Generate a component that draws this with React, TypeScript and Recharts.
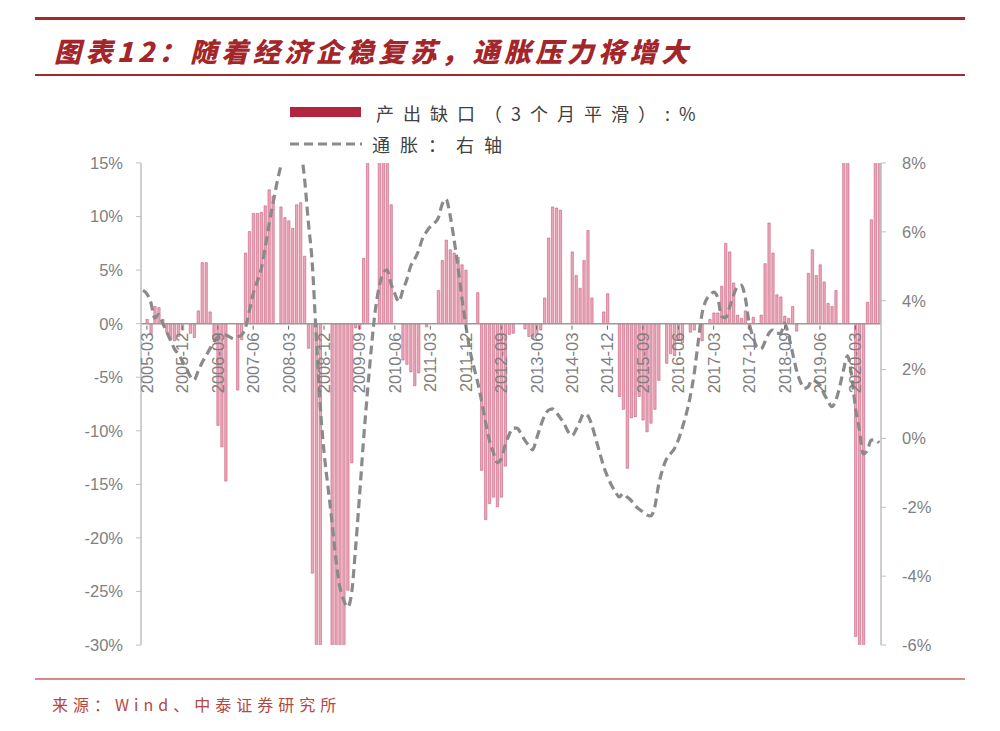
import React from 'react';
import { ComposedChart, Bar, Line, XAxis, YAxis, ReferenceLine } from 'recharts';

// Output gap (3-month smoothed, %) monthly from 2005-02 to 2020-09
const outputGap: number[] = [
  0, 0.4, -1.0, 1.6, 1.5, 0.4, -0.8, -1.5, -1.6, -1.2, -0.6,
  0, -0.9, -1.3, 1.2, 5.7, 5.7, 1.1, -1.5, -9.5, -11.5, -14.7, 0,
  0, -6.2, -1.5, 6.6, 8.6, 10.3, 10.3, 10.4, 11.0, 12.5, 11.9, 0,
  10.9, 9.9, 9.6, 8.9, 11.1, 11.3, 6.3, -2.3, -23.3, -33, -33, 0,
  0, -33, -33, -33, -33, -24.9, -13.0, -0.4, -0.5, 6.1, 17, 0,
  0, 17, 17, 17, 11.1, 0, 0, -3.4, -3.8, -4.5, -5.8, -4.6,
  0, -0.3, 0, 0, 3.1, 5.9, 7.8, 6.9, 6.6, 6.2, 5.5, 5.0,
  0, 0, 2.9, -13.7, -18.3, -16.8, -16.2, -17.1, -16.2, -13.3, -1.0, -0.9,
  0, 0, -0.5, -1.2, -1.4, -1.0, -0.6, 2.4, 8.0, 10.9, 10.8, 10.6,
  0, 0, 6.7, 4.5, 3.3, 5.9, 8.7, 2.4, 0, 0, 1.1, 2.8,
  0, 0, -6.8, -8.0, -13.5, -8.8, -8.7, -6.8, -9.0, -10.1, -9.3, -8.0,
  -5.3, 0, -3.7, -2.8, -3.0, -1.5, -1.8, 0, -0.8, -0.6, 0, -1.6,
  0, 0.4, 1.0, 1.0, 3.5, 7.5, 6.7, 3.8, 0.8, 0.5, 1.2, -0.5,
  0.6, 0, 0.8, 5.6, 9.4, 6.6, 2.7, 2.5, 0.7, 0.5, 1.6, -0.7,
  0, 0, 4.7, 6.9, 4.5, 5.5, 3.9, 1.9, 1.6, 3.1, 0, 17,
  17, 0, -29.2, -33, -33, 2.0, 9.7, 17, 17,
];

// Inflation (%, right axis) monthly from 2005-02 to 2020-09
const inflation: number[] = [
  4.3, 4.2, 3.95, 3.5, 3.6, 3.35, 3.1, 2.85, 2.6, 2.45, 2.25,
  2.05, 1.8, 1.7, 1.95, 2.2, 2.4, 2.6, 2.8, 2.95, 3.0, 3.0, 2.95,
  2.9, 2.95, 3.0, 3.2, 3.7, 4.2, 4.55, 4.9, 5.5, 6.2, 6.8, 7.4,
  7.9, 8.3, 8.6, 8.7, 8.6, 8.4, 7.6, 6.3, 5.1, 3.0, 1.0, -0.4,
  -1.4, -2.4, -3.5, -4.3, -4.7, -4.9, -4.5, -3.2, -1.7, -0.1, 1.3, 2.6,
  3.7, 4.4, 4.8, 4.9, 4.5, 4.2, 3.97, 4.3, 4.6, 5.0, 5.2, 5.45,
  5.8, 6.0, 6.15, 6.25, 6.4, 6.8, 6.95, 6.5, 5.8, 5.0, 4.1, 3.3,
  2.6, 2.1, 1.65, 1.1, 0.5, -0.05, -0.4, -0.7, -0.6, -0.2, 0.1, 0.3,
  0.3, 0.15, -0.05, -0.2, -0.33, 0.0, 0.35, 0.65, 0.82, 0.86, 0.75, 0.6,
  0.43, 0.2, 0.08, 0.25, 0.5, 0.72, 0.66, 0.4, 0.0, -0.4, -0.8, -1.1,
  -1.35, -1.55, -1.7, -1.6, -1.7, -1.8, -1.95, -2.05, -2.13, -2.22, -2.25, -2.0,
  -1.35, -0.9, -0.6, -0.45, -0.3, -0.05, 0.3, 0.7, 1.2, 1.85, 2.75, 3.6,
  4.0, 4.15, 4.25, 4.1, 3.55, 3.5, 3.8, 4.15, 4.4, 4.45, 4.1, 3.35,
  2.95, 2.65, 2.6, 2.8, 3.05, 3.15, 3.05, 3.05, 3.35, 3.0, 2.5, 2.0,
  1.65, 1.45, 1.5, 1.7, 1.65, 1.55, 1.3, 1.1, 0.92, 1.1, 1.5, 2.0,
  2.4, 1.85, 0.9, 0.25, -0.45, -0.35, -0.05, -0.04, -0.13,
];

const START_YEAR = 2005;
const START_MONTH = 2;
const months: string[] = outputGap.map((_, k) => {
  const m = START_MONTH - 1 + k;
  const y = START_YEAR + Math.floor(m / 12);
  const mm = (m % 12) + 1;
  return `${y}-${mm < 10 ? '0' + mm : mm}`;
});

const xTickLabels = [
  '2005-03', '2005-12', '2006-09', '2007-06', '2008-03', '2008-12', '2009-09',
  '2010-06', '2011-03', '2011-12', '2012-09', '2013-06', '2014-03', '2014-12',
  '2015-09', '2016-06', '2017-03', '2017-12', '2018-09', '2019-06', '2020-03',
];
const leftTicks = [-30, -25, -20, -15, -10, -5, 0, 5, 10, 15];
const rightTicks = [-6, -4, -2, 0, 2, 4, 6, 8];
const LEFT_DOMAIN: [number, number] = [-30, 15];
const RIGHT_DOMAIN: [number, number] = [-6, 8];

const TITLE = '图表12：随着经济企稳复苏，通胀压力将增大';
const LEGEND_BAR = '产出缺口（3个月平滑）:%';
const LEGEND_LINE = '通胀：右轴';
const SOURCE = '来源：Wind、中泰证券研究所';

const data = months.map((m, k) => ({ month: m, gap: outputGap[k], infl: inflation[k] }));

// layout
const W = 1000;
const H = 731;
const PLOT_TOP = 163;
const PLOT_BOTTOM = 645;
const PLOT_LEFT = 141;
const PLOT_RIGHT = 881;
const LEFT_AXIS_W = 81;
const RIGHT_AXIS_W = 60;
const X_AXIS_H = 20;
const ZERO_OFFSET = ((0 - LEFT_DOMAIN[0]) / (LEFT_DOMAIN[1] - LEFT_DOMAIN[0])) * (PLOT_BOTTOM - PLOT_TOP);

const AXIS_GRAY = '#bfbfbf';
const TEXT_GRAY = '#7f7f7f';
const LATIN = '"Liberation Sans", Arial, sans-serif';
const CJK = '"Noto Sans CJK SC", "Noto Sans", sans-serif';

const labelSet = new Set(xTickLabels);

const XTick = (props: any) => {
  const { x, y, payload } = props;
  if (!payload || !labelSet.has(payload.value)) return <g />;
  // y is the top of the x-axis band (= plot bottom); move up to the zero line
  const zy = y - ZERO_OFFSET;
  return (
    <g transform={`translate(${x},${zy})`}>
      <line x1={0} y1={0} x2={0} y2={4} stroke="#666" strokeWidth={1} />
      <text
        transform="rotate(-90)"
        x={-7}
        y={0}
        dy="0.36em"
        textAnchor="end"
        fill={TEXT_GRAY}
        fontSize={16.5}
        fontFamily={LATIN}
      >
        {payload.value}
      </text>
    </g>
  );
};

export default function App() {
  return (
    <div style={{ position: 'absolute', left: 0, top: 0, width: W, height: H, background: '#fff', overflow: 'hidden' }}>
      {/* header */}
      <div style={{ position: 'absolute', left: 35, top: 17, width: 930, height: 3, background: '#a32a2a' }} />
      <div
        style={{
          position: 'absolute', left: 54, top: 33, fontFamily: CJK, fontWeight: 900, fontStyle: 'italic',
          fontSize: 27, letterSpacing: 4.4, color: '#a3262a', lineHeight: '36px', whiteSpace: 'nowrap',
        }}
      >
        {TITLE}
      </div>
      <div style={{ position: 'absolute', left: 35, top: 74, width: 930, height: 2, background: '#a32a2a' }} />

      {/* legend */}
      <div style={{ position: 'absolute', left: 290, top: 107, width: 71, height: 10, background: '#b3243f' }} />
      <div
        style={{
          position: 'absolute', left: 376, top: 100, fontFamily: CJK, fontSize: 18, letterSpacing: 9,
          color: '#404040', lineHeight: '26px', whiteSpace: 'nowrap',
        }}
      >
        {LEGEND_BAR}
      </div>
      <svg style={{ position: 'absolute', left: 288, top: 138 }} width={76} height={12}>
        <line x1={2} y1={6} x2={74} y2={6} stroke="#8a8a8a" strokeWidth={3} strokeDasharray="9 5" />
      </svg>
      <div
        style={{
          position: 'absolute', left: 372, top: 131, fontFamily: CJK, fontSize: 18, letterSpacing: 10,
          color: '#404040', lineHeight: '26px', whiteSpace: 'nowrap',
        }}
      >
        {LEGEND_LINE}
      </div>

      {/* chart */}
      <div style={{ position: 'absolute', left: 0, top: 0 }}>
        <ComposedChart
          width={W}
          height={H}
          data={data}
          barCategoryGap={0}
          margin={{
            top: PLOT_TOP,
            bottom: H - PLOT_BOTTOM - X_AXIS_H,
            left: PLOT_LEFT - LEFT_AXIS_W,
            right: W - PLOT_RIGHT - RIGHT_AXIS_W,
          }}
        >
          <XAxis
            dataKey="month"
            height={X_AXIS_H}
            interval={0}
            axisLine={false}
            tickLine={false}
            tickSize={0}
            tick={<XTick />}
          />
          <YAxis
            yAxisId="left"
            width={LEFT_AXIS_W}
            domain={LEFT_DOMAIN}
            ticks={leftTicks}
            allowDataOverflow
            tickFormatter={(v: number) => `${v}%`}
            axisLine={{ stroke: AXIS_GRAY, strokeWidth: 1.5 }}
            tickLine={{ stroke: AXIS_GRAY }}
            tickSize={5}
            tickMargin={13}
            tick={{ fill: TEXT_GRAY, fontSize: 16.5, fontFamily: LATIN }}
          />
          <YAxis
            yAxisId="right"
            orientation="right"
            width={RIGHT_AXIS_W}
            domain={RIGHT_DOMAIN}
            ticks={rightTicks}
            allowDataOverflow
            tickFormatter={(v: number) => `${v}%`}
            axisLine={{ stroke: AXIS_GRAY, strokeWidth: 1.5 }}
            tickLine={{ stroke: AXIS_GRAY }}
            tickSize={5}
            tickMargin={16}
            tick={{ fill: TEXT_GRAY, fontSize: 16.5, fontFamily: LATIN, textAnchor: 'start' }}
          />
          <Bar
            yAxisId="left"
            dataKey="gap"
            barSize={2.4}
            fill="#eaa7ba"
            stroke="#c04d6c"
            strokeWidth={0.5}
            isAnimationActive={false}
          />
          <ReferenceLine yAxisId="left" y={0} stroke="#9a9a9a" strokeWidth={1.5} />
          <Line
            yAxisId="right"
            dataKey="infl"
            type="monotone"
            stroke="#8a8a8a"
            strokeWidth={3.2}
            strokeDasharray="9 5"
            dot={false}
            activeDot={false}
            isAnimationActive={false}
          />
        </ComposedChart>
      </div>

      {/* footer */}
      <div style={{ position: 'absolute', left: 35, top: 678, width: 930, height: 2, background: '#d98a8a' }} />
      <div
        style={{
          position: 'absolute', left: 52, top: 692, fontFamily: CJK, fontSize: 16, letterSpacing: 5,
          color: '#b5473f', lineHeight: '24px', whiteSpace: 'nowrap',
        }}
      >
        {SOURCE}
      </div>
    </div>
  );
}
